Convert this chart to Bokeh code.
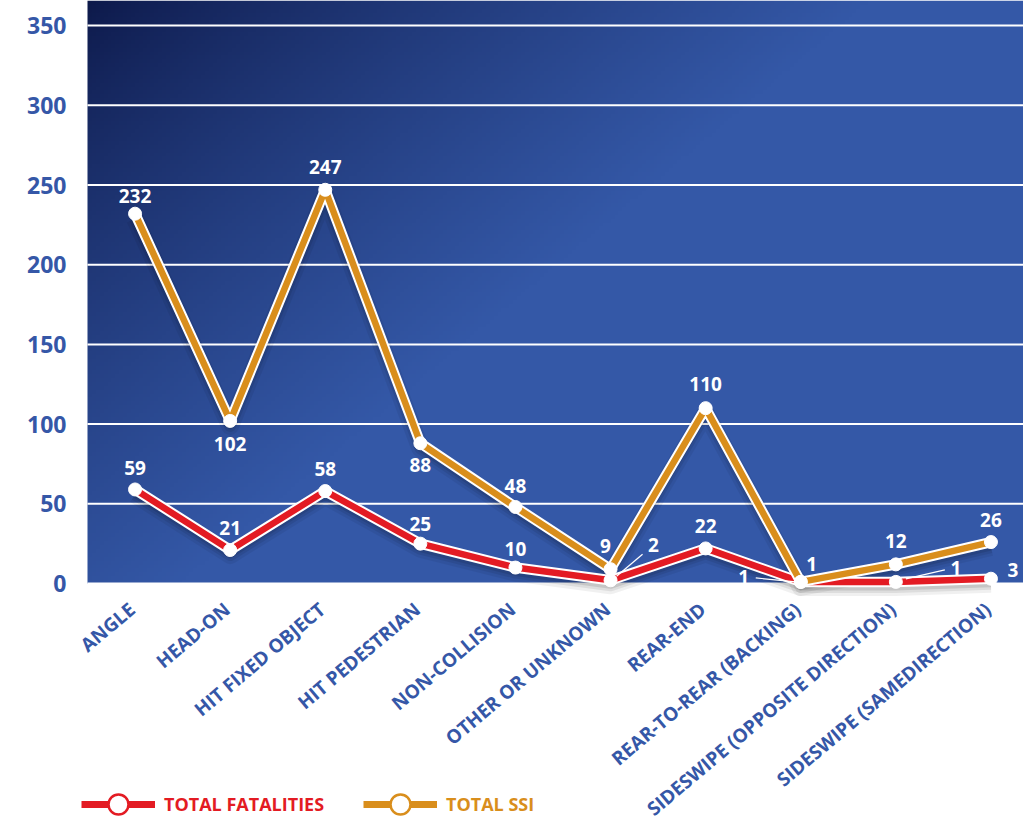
import numpy as np
from bokeh.plotting import figure
from bokeh.models import (ColumnDataSource, Range1d, LabelSet, Legend, LegendItem)
from bokeh.core.properties import value
from bokeh.embed import file_html
from bokeh.resources import INLINE

categories = ["ANGLE", "HEAD-ON", "HIT FIXED OBJECT", "HIT PEDESTRIAN", "NON-COLLISION",
              "OTHER OR UNKNOWN", "REAR-END", "REAR-TO-REAR (BACKING)",
              "SIDESWIPE (OPPOSITE DIRECTION)", "SIDESWIPE (SAMEDIRECTION)"]
fatalities = [59, 21, 58, 25, 10, 2, 22, 1, 1, 3]
ssi = [232, 102, 247, 88, 48, 9, 110, 1, 12, 26]
y_ticks = [0, 50, 100, 150, 200, 250, 300, 350]

# label offsets in screen pixels (x right, y up)
ssi_dx = [0, 0, 0, 0, 0, -5, 0, 11, 0, 0]
ssi_dy = [18, -23, 23, -22, 21, 23, 24, 18, 23, 22]
fat_dx = [0, 0, 0, 0, 0, 43, 0, -57, 60, 22]
fat_dy = [21, 22, 22, 20, 19, 35, 22, 5, 14, 9]

RED = "#e31b23"
ORANGE = "#d98e1c"
BLUE_TXT = "#3557a7"
FONT = "Open Sans"

W, H = 1023, 818
LEFT = 78                 # frame left (y labels live left of it)
PLOT_L = 87               # left edge of the blue plot area
ZERO_Y = 583              # pixel row of value 0
PX_X, PX_Y = 95.1, 1.594  # pixels per category / per unit
plot_x0 = -0.5
x_start = plot_x0 - (PLOT_L - LEFT) / PX_X
x_end = plot_x0 + (W - PLOT_L) / PX_X
y_end = ZERO_Y / PX_Y
y_start = -(H - ZERO_Y) / PX_Y
sx, sy = PX_X, PX_Y

p = figure(width=W, height=H, output_backend="svg", toolbar_location=None,
           x_range=Range1d(x_start, x_end), y_range=Range1d(y_start, y_end),
           min_border_left=LEFT, min_border_right=0, min_border_top=0,
           min_border_bottom=0)
p.outline_line_color = None
p.background_fill_color = "white"
p.border_fill_color = "white"

# gradient background of the plot area
nx, ny = 240, 150
U, V = np.meshgrid(np.linspace(0, 1, nx), np.linspace(0, 1, ny))
px_ = U * (W - PLOT_L)
py_ = (1 - V) * ZERO_Y
t = np.clip(px_ / 780 + py_ / 660, 0, 1) ** 0.8
dark = np.array([13, 25, 74])
light = np.array([52, 88, 167])
rgb = dark[None, None, :] * (1 - t[..., None]) + light[None, None, :] * t[..., None]
img = np.empty((ny, nx), dtype=np.uint32)
view = img.view(dtype=np.uint8).reshape((ny, nx, 4))
view[..., 0] = rgb[..., 0].astype(np.uint8)
view[..., 1] = rgb[..., 1].astype(np.uint8)
view[..., 2] = rgb[..., 2].astype(np.uint8)
view[..., 3] = 255
p.image_rgba(image=[img], x=plot_x0, y=0, dw=x_end - plot_x0, dh=y_end, level="image")

# axes
p.xaxis.visible = False
p.yaxis.ticker = y_ticks
p.yaxis.axis_line_color = None
p.yaxis.major_tick_line_color = None
p.yaxis.minor_tick_line_color = None
p.yaxis.major_label_text_font = FONT
p.yaxis.major_label_text_font_style = "bold"
p.yaxis.major_label_text_font_size = "23px"
p.yaxis.major_label_text_color = BLUE_TXT
p.yaxis.major_label_standoff = 6
p.xgrid.grid_line_color = None
p.ygrid.grid_line_color = None

# grid lines restricted to the plot area
p.segment(x0=[plot_x0] * len(y_ticks), y0=y_ticks, x1=[x_end] * len(y_ticks), y1=y_ticks,
          line_color="white", line_width=2, level="underlay")

xs = list(range(len(categories)))
src = ColumnDataSource(dict(x=xs, fat=fatalities, ssi=ssi, cat=categories,
                            fat_lbl=[str(v) for v in fatalities],
                            ssi_lbl=[str(v) for v in ssi],
                            fdx=fat_dx, fdy=fat_dy, sdx=ssi_dx, sdy=ssi_dy))

# soft shadows
for col in ["fat", "ssi"]:
    sh = [v - 5 / sy for v in src.data[col]]
    for w_, a_ in [(18, 0.06), (12, 0.08), (7, 0.1)]:
        p.line(xs, sh, line_color="black", line_alpha=a_, line_width=w_, line_join="round")

# lines
p.line("x", "fat", source=src, line_color="white", line_width=10.5, line_join="round")
p.line("x", "fat", source=src, line_color=RED, line_width=6.5, line_join="round")
p.line("x", "ssi", source=src, line_color="white", line_width=10.5, line_join="round")
p.line("x", "ssi", source=src, line_color=ORANGE, line_width=6.5, line_join="round")
p.scatter("x", "fat", source=src, size=13, fill_color="white", line_color="white")
p.scatter("x", "ssi", source=src, size=13, fill_color="white", line_color="white")

# leader lines (pixel offsets from points: index, x0, y0, x1, y1)
leaders = [(5, 6, 4, 32, 26), (7, -5, 0, -45, 4), (8, 10, 3, 49, 12)]
x0s, y0s, x1s, y1s = [], [], [], []
for i, a, b, c, d in leaders:
    val = fatalities[i]
    x0s.append(i + a / sx); y0s.append(val + b / sy)
    x1s.append(i + c / sx); y1s.append(val + d / sy)
p.segment(x0s, y0s, x1s, y1s, line_color="white", line_width=1.2)

# data labels
for ycol, lbl, dx, dy in [("fat", "fat_lbl", "fdx", "fdy"), ("ssi", "ssi_lbl", "sdx", "sdy")]:
    ls = LabelSet(x="x", y=ycol, text=lbl, source=src, x_offset=dx, y_offset=dy,
                  text_align="center", text_baseline="middle", text_color="white",
                  text_font=value(FONT), text_font_style="bold", text_font_size="19px")
    p.add_layout(ls)

# category labels
cat_ls = LabelSet(x="x", y=0, text="cat", source=src, x_offset=-3, y_offset=-23,
                  angle=0.70, text_align="right", text_baseline="middle",
                  text_color=BLUE_TXT, text_font=value(FONT), text_font_style="bold",
                  text_font_size="19px")
p.add_layout(cat_ls)

# legend
nan = [float("nan")]
lr1 = p.line(nan, nan, line_color=RED, line_width=7)
mr1 = p.scatter(nan, nan, size=20, fill_color="white", line_color=RED, line_width=2.5)
lr2 = p.line(nan, nan, line_color=ORANGE, line_width=7)
mr2 = p.scatter(nan, nan, size=20, fill_color="white", line_color=ORANGE, line_width=2.5)
for items, loc, col in [([LegendItem(label="TOTAL FATALITIES", renderers=[lr1, mr1])], (3, -11), RED),
                        ([LegendItem(label="TOTAL SSI", renderers=[lr2, mr2])], (285, -11), ORANGE)]:
    lg = Legend(items=items, location=loc, glyph_width=74, glyph_height=50,
                label_standoff=9, padding=0, margin=0, spacing=0,
                border_line_color=None, background_fill_alpha=0,
                label_text_font=FONT, label_text_font_style="bold",
                label_text_font_size="18px", label_text_color=col)
    p.add_layout(lg)

open("out.html", "w").write(file_html(p, INLINE))
